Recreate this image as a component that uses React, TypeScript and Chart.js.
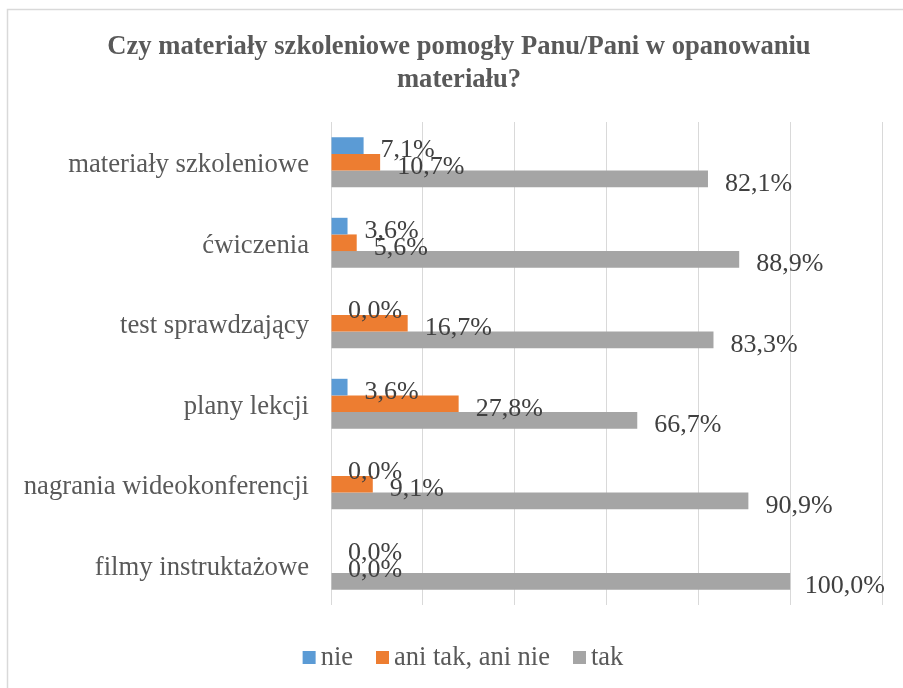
import React, { useEffect, useRef } from 'react';
import { Chart, registerables } from 'chart.js';

Chart.register(...registerables);

const categories = [
  'materiały szkoleniowe',
  'ćwiczenia',
  'test sprawdzający',
  'plany lekcji',
  'nagrania wideokonferencji',
  'filmy instruktażowe',
];
const seriesNames = ['nie', 'ani tak, ani nie', 'tak'];
const nieValues = [7.1, 3.6, 0.0, 3.6, 0.0, 0.0];
const aniTakAniNieValues = [10.7, 5.6, 16.7, 27.8, 9.1, 0.0];
const takValues = [82.1, 88.9, 83.3, 66.7, 90.9, 100.0];
const seriesColors = ['#5B9BD5', '#ED7D31', '#A5A5A5'];
const titleLines = ['Czy materiały szkoleniowe pomogły Panu/Pani w opanowaniu', 'materiału?'];
const xMin = 0;
const xMax = 120;
const xStep = 20;

const FONT = '"Liberation Serif", "Times New Roman", serif';

const frame = {
  id: 'frame',
  beforeDraw(chart: any) {
    const ctx = chart.ctx;
    ctx.save();
    ctx.fillStyle = '#ffffff';
    ctx.fillRect(0, 0, chart.width, chart.height);
    ctx.strokeStyle = '#d9d9d9';
    ctx.lineWidth = 1.5;
    ctx.beginPath();
    ctx.moveTo(7.5, chart.height);
    ctx.lineTo(7.5, 9.5);
    ctx.lineTo(chart.width, 9.5);
    ctx.stroke();
    ctx.restore();
  },
};

const titleAndLegend = {
  id: 'titleAndLegend',
  afterDraw(chart: any) {
    const ctx = chart.ctx;
    ctx.save();
    // title
    ctx.fillStyle = '#595959';
    ctx.font = `bold 26.6px ${FONT}`;
    ctx.textAlign = 'center';
    ctx.textBaseline = 'alphabetic';
    titleLines.forEach((line, i) => {
      ctx.fillText(line, 459, 54 + i * 33);
    });
    // legend
    ctx.font = `26.5px ${FONT}`;
    ctx.textAlign = 'left';
    ctx.textBaseline = 'middle';
    const box = 13;
    const gapText = 5;
    const gapItem = 23;
    const names = chart.data.datasets.map((d: any) => d.label as string);
    const widths = names.map((n: string) => box + gapText + ctx.measureText(n).width);
    const total = widths.reduce((a: number, b: number) => a + b, 0) + gapItem * (names.length - 1);
    let x = 463 - total / 2;
    const cy = 657;
    names.forEach((n: string, i: number) => {
      ctx.fillStyle = chart.data.datasets[i].backgroundColor;
      ctx.fillRect(x, cy - 6, box, box);
      ctx.fillStyle = '#595959';
      ctx.fillText(n, x + box + gapText, cy + 1);
      x += widths[i] + gapItem;
    });
    ctx.restore();
  },
};

const barLabels = {
  id: 'barLabels',
  afterDatasetsDraw(chart: any) {
    const ctx = chart.ctx;
    ctx.save();
    ctx.font = `26px ${FONT}`;
    ctx.fillStyle = '#404040';
    ctx.textAlign = 'left';
    ctx.textBaseline = 'middle';
    chart.data.datasets.forEach((ds: any, di: number) => {
      const meta = chart.getDatasetMeta(di);
      meta.data.forEach((bar: any, i: number) => {
        const v = ds.data[i] as number;
        const text = v.toFixed(1).replace('.', ',') + '%';
        const w = ctx.measureText(text).width;
        let x = bar.x + 17;
        if (x + w > 885) x = 885 - w;
        ctx.fillText(text, x, bar.y + 5);
      });
    });
    ctx.restore();
  },
};

export default function App() {
  const canvasRef = useRef<HTMLCanvasElement | null>(null);

  useEffect(() => {
    const canvas = canvasRef.current;
    if (!canvas) return;
    const values = [nieValues, aniTakAniNieValues, takValues];
    const chart = new Chart(canvas, {
      type: 'bar',
      data: {
        labels: categories,
        datasets: seriesNames.map((name, i) => ({
          label: name,
          data: values[i],
          backgroundColor: seriesColors[i],
          borderWidth: 0,
          categoryPercentage: 0.62,
          barPercentage: 1,
        })),
      },
      options: {
        indexAxis: 'y',
        responsive: false,
        animation: false,
        layout: { padding: { left: 0, right: 21, top: 122, bottom: 83 } },
        plugins: {
          title: { display: false },
          legend: { display: false },
          tooltip: { enabled: false },
        },
        scales: {
          x: {
            type: 'linear',
            min: xMin,
            max: xMax,
            ticks: { display: false, stepSize: xStep },
            grid: { color: '#d9d9d9', lineWidth: 1, drawTicks: false },
            border: { display: false },
            afterFit: (scale: any) => {
              scale.height = 0;
            },
          },
          y: {
            type: 'category',
            ticks: {
              color: '#595959',
              font: { family: FONT, size: 26.7 },
              padding: 22,
              labelOffset: 3,
            },
            grid: { display: false, drawTicks: false },
            border: { display: false },
            afterFit: (scale: any) => {
              scale.width = 331;
            },
          },
        },
      },
      plugins: [frame, barLabels, titleAndLegend],
    } as any);
    return () => chart.destroy();
  }, []);

  return (
    <div style={{ position: 'absolute', left: 0, top: 0, width: 903, height: 688 }}>
      <canvas ref={canvasRef} width={903} height={688} style={{ width: 903, height: 688, display: 'block' }} />
    </div>
  );
}
